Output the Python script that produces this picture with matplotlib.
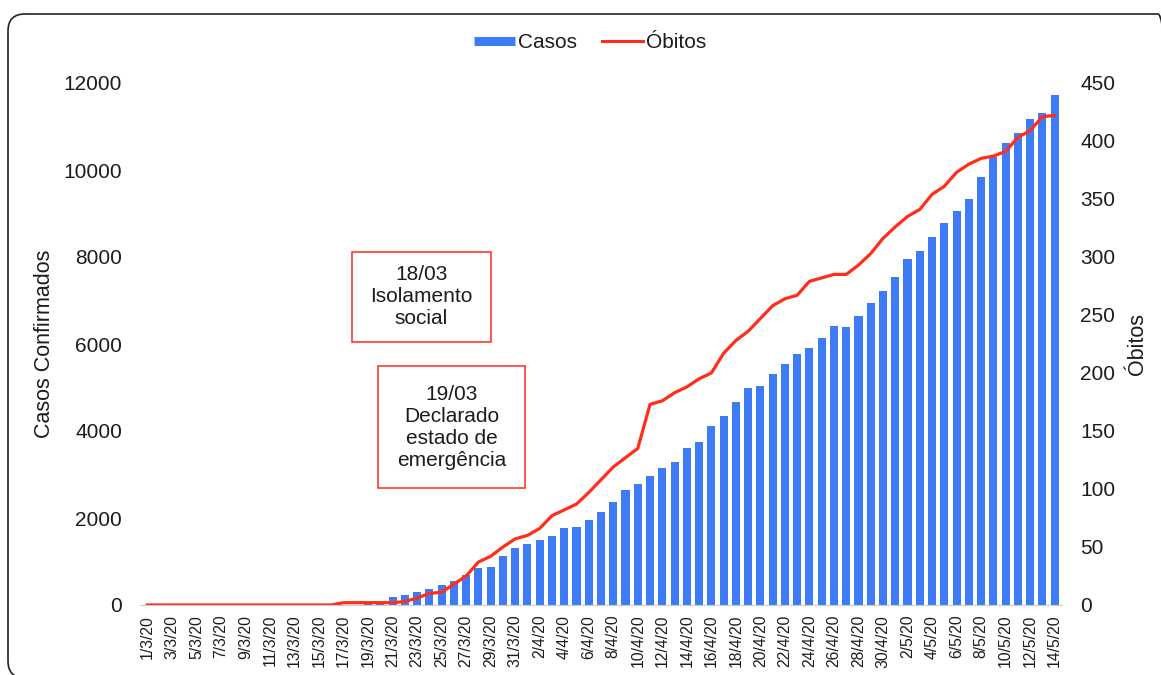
import matplotlib
matplotlib.use("Agg")
import matplotlib.pyplot as plt
import numpy as np
import pandas as pd
from matplotlib.patches import FancyBboxPatch, Rectangle
from matplotlib.lines import Line2D
from matplotlib.transforms import IdentityTransform

plt.rcParams['font.family'] = ['Liberation Sans', 'DejaVu Sans']

# categorias: dias de 1/3/20 a 14/5/20
dias = pd.date_range("2020-03-01", "2020-05-14", freq="D")
rotulos = [f"{d.day}/{d.month}/20" for d in dias]

casos = [0, 0, 0, 0, 0, 0, 0, 0, 0, 0, 0, 0, 0, 0, 0, 0,
         5, 10, 20, 30, 190, 237, 292, 375, 467, 559, 697, 843, 880, 1120, 1303,
         1395, 1487, 1579, 1763, 1800, 1947, 2131, 2361, 2637, 2775,
         2959, 3142, 3280, 3602, 3740, 4108, 4338, 4660, 4982, 5028,
         5303, 5533, 5770, 5901, 6131, 6407, 6400, 6635, 6941, 7218,
         7539, 7949, 8137, 8458, 8779, 9056, 9341, 9841, 10305, 10626,
         10849, 11170, 11313, 11714]

obitos = [0, 0, 0, 0, 0, 0, 0, 0, 0, 0, 0, 0, 0, 0, 0, 0,
          2, 2, 2, 2, 2, 3, 6, 10, 11, 18, 25, 37, 42, 50, 57,
          60, 66, 77, 82, 87, 97, 108, 119, 127, 135,
          173, 176, 183, 188, 195, 200, 217, 228, 236, 247,
          258, 264, 267, 279, 282, 285, 285, 293, 303, 316,
          326, 335, 341, 354, 361, 373, 380, 385, 387, 391,
          403, 409, 421, 422]

AZUL = '#3d7cf6'
VERMELHO = '#ff2d1a'
TXT = '#1c1c1c'
FS = 15

W, H = 1161, 675
fig = plt.figure(figsize=(W / 100, H / 100), dpi=100)
ax = fig.add_axes([140 / W, 1 - 605 / H, 922 / W, 522 / H])
ax2 = ax.twinx()

x = np.arange(len(dias))
ax.bar(x, casos, width=0.66, color=AZUL, zorder=2)
ax2.plot(x, obitos, color=VERMELHO, lw=2.3, zorder=3)

ax.set_xlim(-0.6, len(dias) - 0.4)
ax.set_ylim(0, 12000)
ax2.set_ylim(0, 450)
ax.set_yticks(np.arange(0, 12001, 2000))
ax2.set_yticks(np.arange(0, 451, 50))
ax.set_xticks(x[::2])
ax.set_xticklabels(rotulos[::2], rotation=90, color=TXT, fontsize=11.3)

ax.tick_params(axis='y', length=0, pad=13, labelsize=FS, labelcolor=TXT)
ax2.tick_params(axis='y', length=0, pad=13, labelsize=FS, labelcolor=TXT)
ax.tick_params(axis='x', length=0, pad=7)

for a in (ax, ax2):
    for s in ['top', 'left', 'right']:
        a.spines[s].set_visible(False)
ax.spines['bottom'].set_color('#cccccc')
ax2.spines['bottom'].set_visible(False)
ax2.set_zorder(ax.get_zorder() + 1)
ax2.patch.set_visible(False)

ax.set_ylabel("Casos Confirmados", fontsize=15.5, color=TXT)
ax.yaxis.set_label_coords(-0.092, 0.5)
ax2.set_ylabel("Óbitos", fontsize=15.5, color=TXT, rotation=90)
ax2.yaxis.set_label_coords(1.071, 0.5)

# legenda
hs = [Line2D([], [], color=AZUL, lw=6.5, solid_capstyle='butt'),
      Line2D([], [], color=VERMELHO, lw=2.2)]
fig.legend(hs, ["Casos", "Óbitos"], loc='center', bbox_to_anchor=(590 / W, 1 - 43 / H),
           ncol=2, frameon=False, fontsize=FS, handlelength=1.95,
           handletextpad=0.15, columnspacing=1.2, labelcolor=TXT)

# caixas de anotacao (pixels, origem em cima)
def caixa(x0, y0, x1, y1, texto):
    fig.add_artist(Rectangle((x0, H - y1), x1 - x0, y1 - y0, transform=IdentityTransform(),
                             fill=False, edgecolor='#ff3b2b', lw=1.2))
    fig.text((x0 + x1) / 2 / W, 1 - (y0 + y1) / 2 / H, texto, ha='center', va='center',
             fontsize=FS, color=TXT, linespacing=1.2)

caixa(352, 252, 491, 342, "18/03\nIsolamento\nsocial")
caixa(378, 366, 525, 488, "19/03\nDeclarado\nestado de\nemergência")

# moldura arredondada
fig.add_artist(FancyBboxPatch((8, -3), 1167, 664, boxstyle="round,pad=0,rounding_size=17",
                              transform=IdentityTransform(), fill=False,
                              edgecolor='#222222', lw=1.2))

fig.savefig("out.png", dpi=100)
